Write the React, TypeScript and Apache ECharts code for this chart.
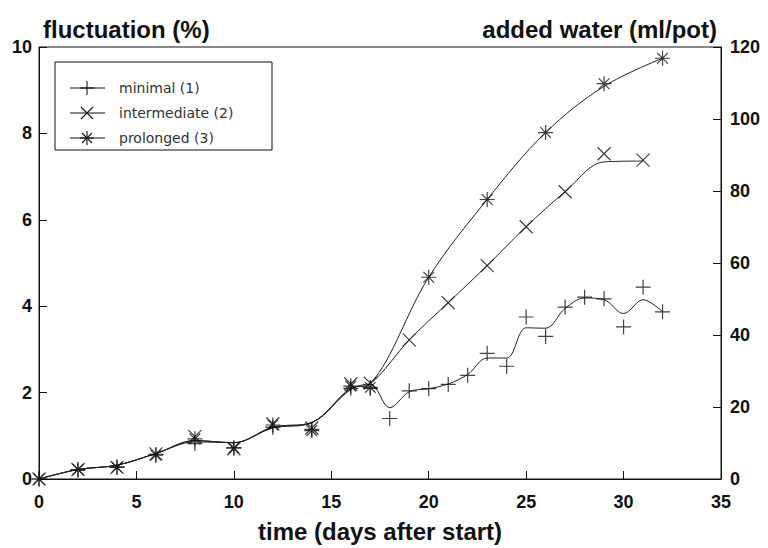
import React, { useEffect, useRef } from "react";
import * as echarts from "echarts";

// ---- data ----
const xTicks = [0, 5, 10, 15, 20, 25, 30, 35];
const leftTicks = [0, 2, 4, 6, 8, 10];
const rightTicks = [0, 20, 40, 60, 80, 100, 120];

const seriesNames = ["minimal (1)", "intermediate (2)", "prolonged (3)"];

const minimalDays = [0, 2, 4, 6, 8, 10, 12, 14, 16, 17, 18, 19, 20, 21, 22, 23, 24, 25, 26, 27, 28, 29, 30, 31, 32];
const minimalValues = [0, 0.2, 0.28, 0.57, 0.82, 0.72, 1.2, 1.15, 2.1, 2.1, 1.4, 2.04, 2.09, 2.19, 2.4, 2.91, 2.61, 3.75, 3.3, 3.98, 4.21, 4.17, 3.52, 4.44, 3.87];
const minimalCurve = [0, 0.22, 0.32, 0.59, 0.86, 0.84, 1.18, 1.3, 2.07, 2.2, 1.65, 2.02, 2.09, 2.2, 2.42, 2.8, 2.8, 3.5, 3.49, 3.95, 4.19, 4.15, 3.83, 4.15, 3.87];

const intermediateDays = [0, 2, 4, 6, 8, 10, 12, 14, 16, 17, 19, 21, 23, 25, 27, 29, 31];
const intermediateValues = [0, 0.22, 0.27, 0.58, 0.98, 0.7, 1.28, 1.18, 2.2, 2.22, 3.22, 4.08, 4.94, 5.84, 6.65, 7.53, 7.38];
const intermediateCurve = [0, 0.22, 0.32, 0.59, 0.89, 0.84, 1.2, 1.31, 2.1, 2.2, 3.22, 4.08, 4.94, 5.84, 6.65, 7.34, 7.36];

const prolongedDays = [0, 2, 4, 6, 8, 10, 12, 14, 16, 17, 20, 23, 26, 29, 32];
const prolongedValues = [0, 0.22, 0.27, 0.55, 0.93, 0.72, 1.25, 1.12, 2.15, 2.12, 4.67, 6.47, 8.02, 9.15, 9.74];
const prolongedCurve = [0, 0.22, 0.32, 0.59, 0.89, 0.84, 1.2, 1.31, 2.1, 2.2, 4.67, 6.47, 8.02, 9.09, 9.74];

const PLUS = "path://M0,7L14,7M7,0L7,14";
const CROSS = "path://M0,0L14,14M14,0L0,14";
const STAR = "path://M0,7L14,7M7,0L7,14M2,2L12,12M12,2L2,12";

const FONT = "'Liberation Sans', Arial, Helvetica, sans-serif";
const LEGEND_FONT = "'DejaVu Sans', 'Liberation Sans', sans-serif";
const INK = "#111";

function pairs(days: number[], vals: number[]) {
  return days.map((d, i) => [d, vals[i]]);
}

function curveSeries(name: string, days: number[], vals: number[]) {
  return {
    name,
    type: "line",
    data: pairs(days, vals),
    smooth: 0.35,
    symbol: "none",
    lineStyle: { color: "#222", width: 1 },
    z: 2,
    silent: true,
  };
}

function markSeries(name: string, days: number[], vals: number[], symbol: string, size: number) {
  return {
    name,
    type: "scatter",
    data: pairs(days, vals),
    symbol,
    symbolSize: size,
    itemStyle: { color: "rgba(0,0,0,0)", borderColor: INK, borderWidth: 1.2 },
    z: 3,
  };
}

function legendMarker(cx: number, cy: number, kind: number) {
  const h = 7;
  const segs: number[][] = [];
  if (kind === 0 || kind === 2) {
    segs.push([cx - h, cy, cx + h, cy], [cx, cy - h, cx, cy + h]);
  }
  if (kind === 1 || kind === 2) {
    const k = kind === 2 ? 5 : 6;
    segs.push([cx - k, cy - k, cx + k, cy + k], [cx + k, cy - k, cx - k, cy + k]);
  }
  return segs.map((s) => ({
    type: "line",
    shape: { x1: s[0], y1: s[1], x2: s[2], y2: s[3] },
    style: { stroke: INK, lineWidth: 1.1 },
  }));
}

export default function App() {
  const ref = useRef<HTMLDivElement>(null);
  useEffect(() => {
    if (!ref.current) return;
    const chart = echarts.init(ref.current, null, { renderer: "svg" });

    const legendRows = seriesNames.map((n, i) => {
      const cy = 88 + i * 25;
      return [
        { type: "line", shape: { x1: 70, y1: cy, x2: 105, y2: cy }, style: { stroke: INK, lineWidth: 1 } },
        ...legendMarker(87, cy, i),
        {
          type: "text",
          x: 119,
          y: cy,
          style: { text: n, fill: "#333", font: `14px ${LEGEND_FONT}`, textVerticalAlign: "middle", textAlign: "left" },
        },
      ];
    });

    chart.setOption({
      animation: false,
      backgroundColor: "#fff",
      grid: { left: 39, right: 47, top: 47, bottom: 64, show: true, borderColor: INK, borderWidth: 1, backgroundColor: "transparent" },
      title: [
        { text: "fluctuation (%)", left: 38, top: 12, textStyle: { fontFamily: FONT, fontWeight: "bold", fontSize: 24, color: INK } },
        { text: "added water (ml/pot)", right: 46, top: 12, textStyle: { fontFamily: FONT, fontWeight: "bold", fontSize: 24, color: INK } },
      ],
      xAxis: {
        type: "value",
        min: xTicks[0],
        max: xTicks[xTicks.length - 1],
        interval: 5,
        name: "time (days after start)",
        nameLocation: "middle",
        nameGap: 40,
        nameTextStyle: { fontFamily: FONT, fontWeight: "bold", fontSize: 24, color: INK },
        axisLine: { show: true, lineStyle: { color: INK, width: 1 } },
        axisTick: { show: true, inside: true, length: 8, lineStyle: { color: INK } },
        axisLabel: { fontFamily: FONT, fontWeight: "bold", fontSize: 18, color: INK, margin: 14 },
        splitLine: { show: false },
      },
      yAxis: [
        {
          type: "value",
          min: leftTicks[0],
          max: leftTicks[leftTicks.length - 1],
          interval: 2,
          position: "left",
          axisLine: { show: true, lineStyle: { color: INK, width: 1 } },
          axisTick: { show: true, inside: true, length: 8, lineStyle: { color: INK } },
          axisLabel: { fontFamily: FONT, fontWeight: "bold", fontSize: 18, color: INK, margin: 7 },
          splitLine: { show: false },
        },
        {
          type: "value",
          min: rightTicks[0],
          max: rightTicks[rightTicks.length - 1],
          interval: 20,
          position: "right",
          axisLine: { show: true, lineStyle: { color: INK, width: 1 } },
          axisTick: { show: true, inside: true, length: 8, lineStyle: { color: INK } },
          axisLabel: { fontFamily: FONT, fontWeight: "bold", fontSize: 18, color: INK, margin: 9 },
          splitLine: { show: false },
        },
      ],
      series: [
        curveSeries(seriesNames[0], minimalDays, minimalCurve),
        curveSeries(seriesNames[1], intermediateDays, intermediateCurve),
        curveSeries(seriesNames[2], prolongedDays, prolongedCurve),
        markSeries(seriesNames[0], minimalDays, minimalValues, PLUS, 15),
        markSeries(seriesNames[1], intermediateDays, intermediateValues, CROSS, 13),
        markSeries(seriesNames[2], prolongedDays, prolongedValues, STAR, 15),
      ],
      graphic: [
        {
          type: "group",
          children: [
            { type: "rect", shape: { x: 55, y: 62, width: 217, height: 88 }, style: { fill: "#fff", stroke: INK, lineWidth: 1 } },
            ...legendRows.flat(),
          ],
        },
      ],
    });
    return () => chart.dispose();
  }, []);
  return <div ref={ref} style={{ position: "fixed", left: 0, top: 0, width: 768, height: 548 }} />;
}
